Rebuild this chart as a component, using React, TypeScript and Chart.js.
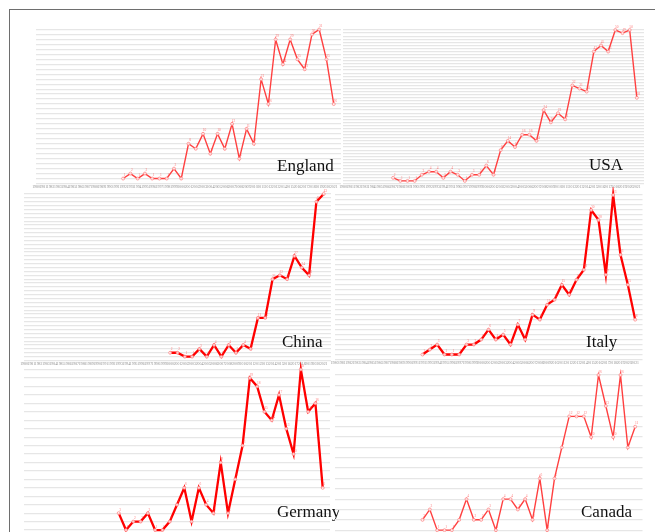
import React, { useEffect, useRef } from "react";
import { Chart, registerables } from "chart.js";

Chart.register(...registerables);

// Year categories along every x axis; the trailing blank slot leaves room after 2021.
const YEARS = [
  "1980", "1981", "1982", "1983", "1984", "1985", "1986", "1987", "1988", "1989",
  "1990", "1991", "1992", "1993", "1994", "1995", "1996", "1997", "1998", "1999",
  "2000", "2001", "2002", "2003", "2004", "2005", "2006", "2007", "2008", "2009",
  "2010", "2011", "2012", "2013", "2014", "2015", "2016", "2017", "2018", "2019",
  "2020", "2021", "",
];

// Yearly counts per country, each series starting at its own first year.
const ENGLAND_FROM = "1992";
const ENGLAND = [1, 2, 1, 2, 1, 1, 1, 3, 1, 8, 7, 10, 6, 10, 7, 12, 5, 11, 8, 21, 16, 29, 24, 29, 25, 23, 30, 31, 25, 16];

const USA_FROM = "1987";
const USA = [2, 1, 1, 1, 3, 4, 4, 2, 4, 3, 1, 3, 3, 6, 3, 11, 14, 12, 16, 16, 14, 24, 20, 23, 21, 32, 31, 30, 43, 45, 43, 50, 49, 50, 28];

const CHINA_FROM = "2000";
const CHINA = [2, 2, 1, 1, 3, 1, 4, 1, 4, 2, 4, 3, 11, 11, 21, 22, 21, 27, 24, 22, 41, 43];

const ITALY_FROM = "1992";
const ITALY = [1, 2, 3, 1, 1, 1, 3, 3, 4, 6, 4, 5, 3, 7, 4, 9, 8, 11, 12, 15, 13, 16, 18, 30, 28, 17, 33, 21, 15, 8];

const GERMANY_FROM = "1993";
const GERMANY = [3, 1, 2, 2, 3, 1, 1, 2, 4, 6, 2, 6, 4, 3, 9, 3, 7, 11, 19, 18, 15, 14, 17, 13, 10, 20, 15, 16, 6];

const CANADA_FROM = "1992";
const CANADA = [2, 3, 1, 1, 1, 2, 4, 2, 2, 3, 1, 4, 4, 3, 4, 2, 6, 1, 6, 9, 12, 12, 12, 10, 16, 13, 10, 16, 9, 11];

const PAGE_W = 655;
const PAGE_H = 532;
const CANVAS_H = 560;
const TICK_FONT = 3.8;
const TICK_PAD = 1;
const X_AXIS_H = TICK_FONT * 1.2 + TICK_PAD;

type Panel = {
  name: string;
  from: string;
  values: number[];
  area: [number, number, number, number]; // left, right, top, bottom of the plot box
  nameAt: [number, number];
  heavy: boolean;
};

const PANELS: Panel[] = [
  { name: "England", from: ENGLAND_FROM, values: ENGLAND, area: [36, 341, 29.5, 184.5], nameAt: [277, 170.5], heavy: false },
  { name: "USA", from: USA_FROM, values: USA, area: [343, 644, 30, 185], nameAt: [589, 170], heavy: false },
  { name: "China", from: CHINA_FROM, values: CHINA, area: [24, 331, 194, 361.5], nameAt: [282, 346.5], heavy: true },
  { name: "Italy", from: ITALY_FROM, values: ITALY, area: [334.5, 642.5, 195, 360.5], nameAt: [586, 346.5], heavy: true },
  { name: "Germany", from: GERMANY_FROM, values: GERMANY, area: [24, 330, 369.5, 539.5], nameAt: [277, 516.5], heavy: true },
  { name: "Canada", from: CANADA_FROM, values: CANADA, area: [334.5, 642.5, 375, 541.5], nameAt: [581, 516.5], heavy: false },
];

function seriesFor(from: string, values: number[]): (number | null)[] {
  const start = YEARS.indexOf(from);
  return YEARS.map((_, i) => (i >= start && i - start < values.length ? values[i - start] : null));
}

function overlayPlugin(panel: Panel) {
  return {
    id: "overlay-" + panel.name,
    afterDatasetsDraw(chart: any) {
      const ctx = chart.ctx as CanvasRenderingContext2D;
      const meta = chart.getDatasetMeta(0);
      const data = chart.data.datasets[0].data as (number | null)[];
      ctx.save();
      ctx.font = "3.5px 'Liberation Serif'";
      ctx.fillStyle = "rgba(255, 80, 80, 0.75)";
      ctx.textAlign = "center";
      ctx.textBaseline = "bottom";
      meta.data.forEach((pt: any, i: number) => {
        const v = data[i];
        if (v == null) return;
        ctx.fillText(String(v), pt.x + 1.5, pt.y - 1.5);
      });
      ctx.restore();
    },
    afterDraw(chart: any) {
      const ctx = chart.ctx as CanvasRenderingContext2D;
      ctx.save();
      ctx.font = "17px 'Liberation Serif'";
      ctx.fillStyle = "#111111";
      ctx.textAlign = "left";
      ctx.textBaseline = "alphabetic";
      ctx.fillText(panel.name, panel.nameAt[0], panel.nameAt[1]);
      ctx.restore();
    },
  };
}

function PanelChart({ panel }: { panel: Panel }) {
  const ref = useRef<HTMLCanvasElement>(null);

  useEffect(() => {
    if (!ref.current) return;
    const [left, right, top, bottom] = panel.area;
    const max = Math.max(...panel.values);
    const chart = new Chart(ref.current, {
      type: "line",
      data: {
        labels: YEARS,
        datasets: [
          {
            data: seriesFor(panel.from, panel.values),
            borderColor: panel.heavy ? "#ff0000" : "#ff4040",
            borderWidth: panel.heavy ? 2.3 : 1.4,
            pointRadius: 1.5,
            pointBorderWidth: 0.7,
            pointBorderColor: "rgba(255, 110, 110, 0.9)",
            pointBackgroundColor: "rgba(255, 255, 255, 0.8)",
            tension: 0,
            spanGaps: false,
            clip: 8,
          } as any,
        ],
      },
      options: {
        responsive: false,
        animation: false,
        events: [],
        layout: {
          padding: { left, right: PAGE_W - right, top, bottom: CANVAS_H - bottom - X_AXIS_H },
        },
        plugins: {
          legend: { display: false },
          tooltip: { enabled: false },
          title: { display: false },
        },
        scales: {
          x: {
            type: "category",
            offset: false,
            grid: { display: false, drawTicks: false },
            border: { display: false },
            ticks: {
              autoSkip: false,
              maxRotation: 0,
              minRotation: 0,
              padding: TICK_PAD,
              color: "#8f8f8f",
              font: { family: "'Liberation Serif'", size: TICK_FONT },
            },
            afterFit: (s: any) => {
              s.paddingLeft = 0;
              s.paddingRight = 0;
            },
          },
          y: {
            min: 0,
            max,
            grid: { color: "#e6e6e6", lineWidth: 1.2, drawTicks: false },
            border: { display: false },
            ticks: { display: false },
            afterBuildTicks: (s: any) => {
              const ticks = [];
              for (let v = 0; v <= max; v++) ticks.push({ value: v });
              s.ticks = ticks;
            },
            afterFit: (s: any) => {
              s.width = 0;
              s.paddingTop = 0;
              s.paddingBottom = 0;
            },
          },
        },
      } as any,
      plugins: [overlayPlugin(panel)],
    });
    return () => chart.destroy();
  }, [panel]);

  return (
    <canvas
      ref={ref}
      width={PAGE_W}
      height={CANVAS_H}
      style={{ position: "absolute", left: 0, top: 0, width: PAGE_W, height: CANVAS_H, pointerEvents: "none" }}
    />
  );
}

export default function App() {
  return (
    <div
      style={{
        position: "absolute",
        left: 0,
        top: 0,
        width: PAGE_W,
        height: PAGE_H,
        overflow: "hidden",
        background: "#ffffff",
      }}
    >
      <div
        style={{
          position: "absolute",
          left: 9,
          top: 9,
          width: 800,
          height: 800,
          borderTop: "1px solid #6e6e6e",
          borderLeft: "1px solid #6e6e6e",
        }}
      />
      {PANELS.map((p) => (
        <PanelChart key={p.name} panel={p} />
      ))}
    </div>
  );
}
